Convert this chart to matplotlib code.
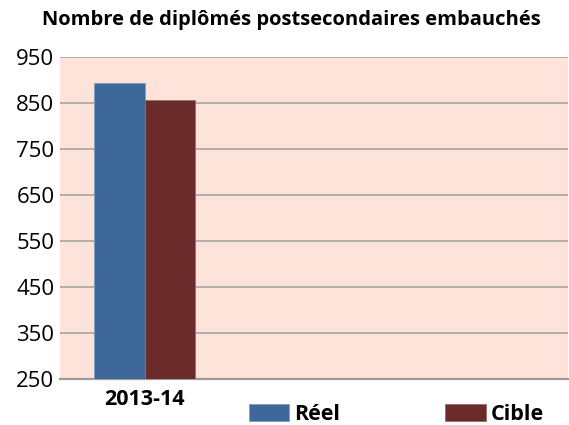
import matplotlib
matplotlib.use("Agg")
import matplotlib.pyplot as plt
import numpy as np

categories = ["2013-14", "", ""]
reel = [893]
cible = [856]
series_names = ["Réel", "Cible"]
yticks = [250, 350, 450, 550, 650, 750, 850, 950]

plt.rcParams['font.family'] = ['Open Sans', 'DejaVu Sans']

fig = plt.figure(figsize=(5.69, 4.25), dpi=100)
ax = fig.add_axes([60/569, 1-379/425, 508/569, (379-57)/425])
ax.set_facecolor('#FDE3DA')

w = 0.30
x = np.arange(len(reel))
ax.bar(x - w/2, reel, width=w, color='#3E6899', edgecolor='#7F9CC0', linewidth=0.6, label=series_names[0], zorder=3)
ax.bar(x + w/2, cible, width=w, color='#6B2B2B', edgecolor='#9A6A6A', linewidth=0.6, label=series_names[1], zorder=3)

ax.set_xlim(-0.5, len(categories) - 0.5)
ax.set_ylim(250, 950)
ax.set_yticks(yticks)
ax.set_xticks(np.arange(len(categories)))
ax.set_xticklabels(categories, fontsize=15.5, fontweight='bold')
ax.tick_params(axis='y', length=0, labelsize=16, pad=4)
ax.tick_params(axis='x', length=0, pad=7)
ax.grid(axis='y', color='#A8A2A0', linewidth=1.2, zorder=1)
for s in ['top', 'right', 'left']:
    ax.spines[s].set_visible(False)
ax.spines['bottom'].set_color('#A09A98')
ax.spines['bottom'].set_linewidth(1.6)

fig.text(291/569, 1-24.5/425, "Nombre de diplômés postsecondaires embauchés", ha='center', va='baseline',
         fontsize=14.5, fontweight='bold')

leg = ax.legend(loc='center left', bbox_to_anchor=(249/569, 1-414.5/425), bbox_transform=fig.transFigure,
                ncol=2, frameon=False, prop={'weight': 'bold', 'size': 15.5},
                handlelength=1.86, handleheight=0.79, handletextpad=0.23, columnspacing=4.9,
                borderaxespad=0, borderpad=0)

fig.savefig("out.png", dpi=100)
